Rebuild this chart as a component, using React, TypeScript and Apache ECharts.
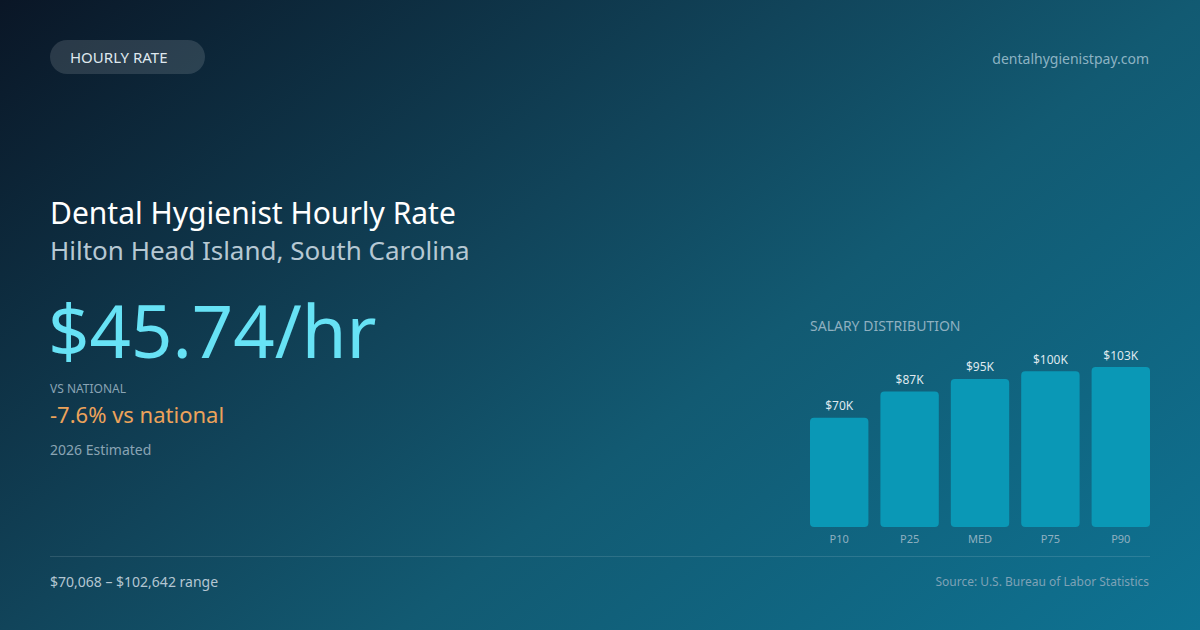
import React, { useEffect, useRef } from 'react';
import * as echarts from 'echarts';

// salary percentiles (annual, USD)
const categories = ['P10', 'P25', 'MED', 'P75', 'P90'];
const salaries = [70068, 87000, 95000, 100000, 102642];

const FONT = '"Noto Sans", "Open Sans", sans-serif';

const App: React.FC = () => {
  const chartRef = useRef<HTMLDivElement>(null);

  useEffect(() => {
    document.body.style.margin = '0';
    if (!chartRef.current) return;
    const chart = echarts.init(chartRef.current, null, { renderer: 'svg' });

    const txt = (
      text: string,
      x: number,
      y: number,
      size: number,
      fill: string,
      align: string = 'left',
      weight: string | number = 'normal'
    ) => ({
      type: 'text',
      silent: true,
      style: {
        text,
        x,
        y,
        fill,
        align,
        verticalAlign: 'middle',
        font: `${weight} ${size}px ${FONT}`,
      },
    });

    const option = {
      animation: false,
      backgroundColor: new echarts.graphic.LinearGradient(
        0, 0, 766, 972,
        [
          { offset: 0, color: '#0a1626' },
          { offset: 0.4, color: '#11445a' },
          { offset: 0.6, color: '#125a72' },
          { offset: 1, color: '#0e7393' },
        ],
        true
      ),
      grid: { left: 804, top: 340, width: 352, height: 187, containLabel: false },
      xAxis: {
        type: 'category',
        data: categories,
        axisLine: { show: false },
        axisTick: { show: false },
        axisLabel: { color: '#8fb0c0', fontSize: 11, fontFamily: FONT, margin: 6 },
      },
      yAxis: {
        type: 'value',
        min: 0,
        max: 120000,
        show: false,
        splitLine: { show: false },
      },
      series: [
        {
          type: 'bar',
          data: salaries,
          barWidth: 58.4,
          itemStyle: { color: '#0a98b6', borderRadius: 4 },
          label: {
            show: true,
            position: 'top',
            distance: 6,
            color: '#dfe8ee',
            fontSize: 12,
            fontFamily: FONT,
            formatter: (p: any) => `$${Math.round(p.value / 1000)}K`,
          },
        },
      ],
      graphic: [
        {
          type: 'rect',
          silent: true,
          shape: { x: 50, y: 40, width: 155, height: 34, r: 17 },
          style: { fill: 'rgba(255,255,255,0.13)' },
        },
        txt('HOURLY RATE', 70, 57, 15, '#dfe8ee'),
        txt('dentalhygienistpay.com', 1149, 58, 14, '#8db3c3', 'right'),
        txt('Dental Hygienist Hourly Rate', 50, 212, 30, '#ffffff'),
        txt('Hilton Head Island, South Carolina', 50, 250, 26, '#b6c8d3'),
        txt('$45.74/hr', 48, 329, 72.5, '#67e2f5'),
        txt('VS NATIONAL', 50, 388, 12, '#8aa4b4'),
        txt('-7.6% vs national', 50, 414, 22, '#eda35a'),
        txt('2026 Estimated', 50, 449, 14, '#8aa4b4'),
        txt('SALARY DISTRIBUTION', 810, 325, 14, '#8fb0c0'),
        {
          type: 'line',
          silent: true,
          shape: { x1: 50, y1: 556.5, x2: 1150, y2: 556.5 },
          style: { stroke: 'rgba(255,255,255,0.12)', lineWidth: 1 },
        },
        txt('$70,068 – $102,642 range', 50, 581, 14, '#b4c6d2'),
        txt('Source: U.S. Bureau of Labor Statistics', 1149, 581, 12, '#7ea2b6', 'right'),
      ],
    };

    chart.setOption(option as any);

    return () => {
      chart.dispose();
    };
  }, []);

  return <div ref={chartRef} style={{ width: '1200px', height: '630px' }}></div>;
};

export default App;
